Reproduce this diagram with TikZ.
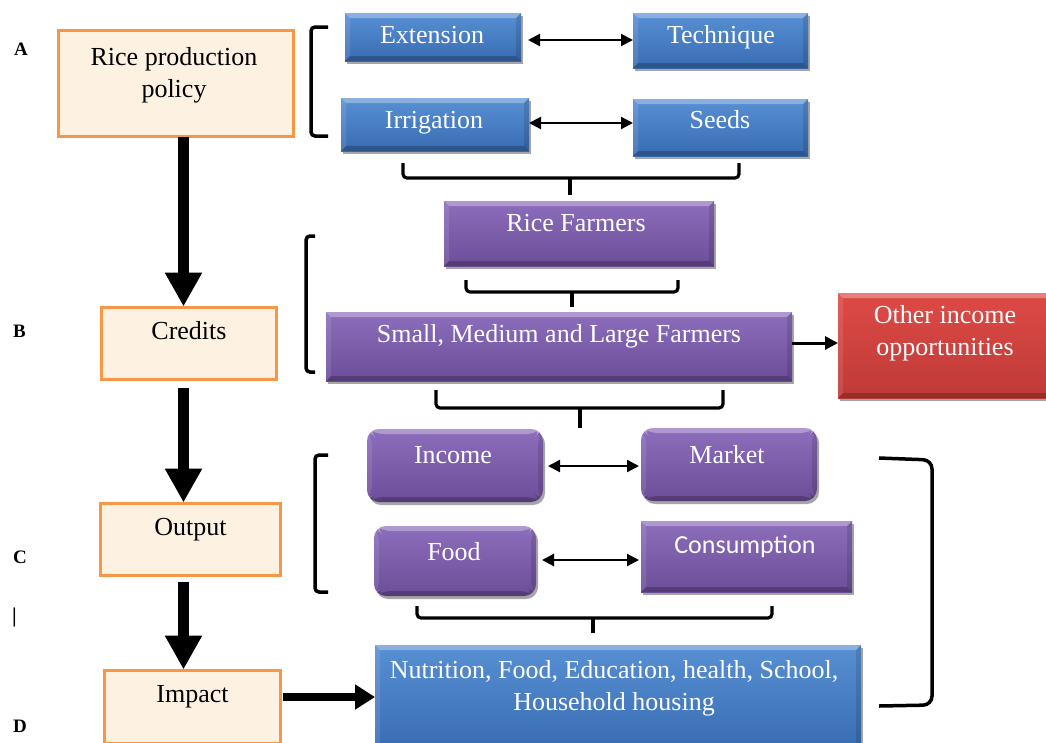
\documentclass[tikz,border=0pt]{standalone}
\usepackage{fontspec}
\setmainfont{Liberation Serif}
\newfontfamily\consfont{Carlito}
\usetikzlibrary{arrows.meta,shadows}

\definecolor{blueT}{HTML}{5890D4}
\definecolor{blueB}{HTML}{386CB2}
\definecolor{purT}{HTML}{8D6EBC}
\definecolor{purB}{HTML}{6C4D98}
\definecolor{redT}{HTML}{DE4A46}
\definecolor{redB}{HTML}{BE3A37}
\definecolor{orEdge}{HTML}{F79646}
\definecolor{orFill}{HTML}{FDF2E2}

\tikzset{
  box/.style={rectangle, inner sep=0pt, outer sep=0pt},
  bevel/.style={path picture={
    \fill[white,opacity=.30] (path picture bounding box.north west) -- (path picture bounding box.north east)
      -- ([xshift=-5pt,yshift=-5pt]path picture bounding box.north east) -- ([xshift=5pt,yshift=-5pt]path picture bounding box.north west) -- cycle;
    \fill[white,opacity=.10] (path picture bounding box.north west) -- ([xshift=5pt,yshift=-5pt]path picture bounding box.north west)
      -- ([xshift=5pt,yshift=5pt]path picture bounding box.south west) -- (path picture bounding box.south west) -- cycle;
    \fill[black,opacity=.12] (path picture bounding box.north east) -- ([xshift=-5pt,yshift=-5pt]path picture bounding box.north east)
      -- ([xshift=-5pt,yshift=5pt]path picture bounding box.south east) -- (path picture bounding box.south east) -- cycle;
    \fill[black,opacity=.22] (path picture bounding box.south west) -- (path picture bounding box.south east)
      -- ([xshift=-5pt,yshift=5pt]path picture bounding box.south east) -- ([xshift=5pt,yshift=5pt]path picture bounding box.south west) -- cycle;
  }},
  shade3d/.style={drop shadow={shadow xshift=2pt,shadow yshift=-3pt,opacity=.35,fill=black}},
  bluebox/.style={box, top color=blueT, bottom color=blueB, shade3d, bevel},
  purbox/.style={box, top color=purT, bottom color=purB, shade3d, bevel},
  purround/.style={purbox, rounded corners=12pt},
  redbox/.style={box, top color=redT, bottom color=redB, shade3d, bevel},
  obox/.style={box, draw=orEdge, line width=3pt, fill=orFill},
  txt/.style={font=\fontsize{26}{31}\selectfont, anchor=base, inner sep=0pt},
  wtxt/.style={txt, text=white},
  tag/.style={font=\fontsize{19}{22}\selectfont\bfseries, anchor=base west, inner sep=0pt},
  bigarrow/.style={line width=11pt, -{Triangle[length=34pt,width=35pt]}},
  sidearrow/.style={line width=8pt, -{Triangle[length=20pt,width=24pt]}},
  thinarrow/.style={line width=3pt, -{Triangle[length=13pt,width=13pt]}},
  dblarrow/.style={line width=2.2pt, {Triangle[length=12pt,width=12pt]}-{Triangle[length=12pt,width=12pt]}},
  bracket/.style={line width=3.5pt, rounded corners=4pt},
  brace/.style={line width=3.2pt, rounded corners=4pt},
}

\begin{document}
\begin{tikzpicture}[x=1pt,y=-1pt]
\useasboundingbox (0,0) rectangle (1046,742);

% stage letters
\node[tag] (tA) at (14,55) {A};
\node[tag] (tB) at (13,337) {B};
\node[tag] (tC) at (13,563) {C};
\node[tag, font=\fontsize{21}{24}\selectfont\bfseries] (tbar) at (12,622) {|};
\node[tag] (tD) at (13,732) {D};

% left column: policy chain
\node[obox, minimum width=235pt, minimum height=106pt] (policy) at (176,83.5) {};
\node[txt] (policy-t1) at (174,65) {Rice production};
\node[txt] (policy-t2) at (174,97) {policy};

\node[obox, minimum width=175pt, minimum height=72pt] (credits) at (189,343.5) {};
\node[txt] (credits-t) at (189,339) {Credits};

\node[obox, minimum width=180pt, minimum height=72pt] (output) at (190.5,539.5) {};
\node[txt] (output-t) at (190.5,535) {Output};

\node[obox, minimum width=176pt, minimum height=73pt] (impact) at (192.5,707) {};
\node[txt] (impact-t) at (192.5,702) {Impact};

% policy instruments
\node[bluebox, minimum width=176pt, minimum height=48pt] (ext) at (433,37) {};
\node[wtxt] (ext-t) at (432,43) {Extension};
\node[bluebox, minimum width=175pt, minimum height=55pt] (tech) at (720.5,40.5) {};
\node[wtxt] (tech-t) at (721,43) {Technique};
\node[bluebox, minimum width=188pt, minimum height=53pt] (irr) at (435,124.5) {};
\node[wtxt] (irr-t) at (434,128) {Irrigation};
\node[bluebox, minimum width=175pt, minimum height=57pt] (seeds) at (720.5,127.5) {};
\node[wtxt] (seeds-t) at (720,128) {Seeds};

% farmers
\node[purbox, minimum width=270pt, minimum height=65pt] (rice) at (579,233.5) {};
\node[wtxt] (rice-t) at (576,231) {Rice Farmers};
\node[purbox, minimum width=466pt, minimum height=69pt] (sml) at (559,346.5) {};
\node[wtxt] (sml-t) at (559,342) {Small, Medium and Large Farmers};
\node[redbox, minimum width=216pt, minimum height=105pt] (other) at (946,345.5) {};
\node[wtxt] (other-t1) at (945,323) {Other income};
\node[wtxt] (other-t2) at (945,355) {opportunities};

% outcomes
\node[purround, minimum width=176pt, minimum height=73pt] (income) at (455,465.5) {};
\node[wtxt] (income-t) at (453,463) {Income};
\node[purround, minimum width=176pt, minimum height=73pt] (market) at (729,464.5) {};
\node[wtxt] (market-t) at (727,463) {Market};
\node[purround, minimum width=162pt, minimum height=70pt] (food) at (455,561) {};
\node[wtxt] (food-t) at (454,560) {Food};
\node[purbox, minimum width=211pt, minimum height=71pt] (cons) at (746.5,556.5) {};
\node[wtxt, font=\consfont\fontsize{26}{31}\selectfont] (cons-t) at (745,553) {Consumption};

% impacts
\node[bluebox, minimum width=486pt, minimum height=105pt] (nutr) at (618,697.5) {};
\node[wtxt] (nutr-t1) at (614,678) {Nutrition, Food, Education, health, School,};
\node[wtxt] (nutr-t2) at (614,710) {Household housing};

% main flow
\draw[bigarrow, shorten >=1pt] (183.5,0 |- policy.south) -- (183.5,0 |- credits.north);
\draw[bigarrow, shorten <=8pt, shorten >=1pt] (183.5,0 |- credits.south) -- (183.5,0 |- output.north);
\draw[bigarrow, shorten <=6pt, shorten >=1pt] (183.5,0 |- output.south) -- (183.5,0 |- impact.north);
\draw[sidearrow, shorten <=2pt] (impact.east |- 0,697) -- (nutr.west |- 0,697);
\draw[thinarrow] (sml.east |- 0,343) -- (other.west |- 0,343);

% two-way links
\draw[dblarrow, shorten <=7pt] (ext.east |- 0,40) -- (tech.west |- 0,40);
\draw[dblarrow] (irr.east |- 0,123) -- (seeds.west |- 0,123);
\draw[dblarrow, shorten <=5pt, shorten >=2pt] (income.east |- 0,466) -- (market.west |- 0,466);
\draw[dblarrow, shorten <=6pt, shorten >=2pt] (food.east |- 0,560) -- (cons.west |- 0,560);

% brackets
\draw[bracket] (328,27) -- (311,27) -- (311,136) -- (328,136);
\draw[bracket] (315,236) -- (306,236) -- (306,372) -- (315,372);
\draw[bracket] (328,455) -- (315,455) -- (315,592) -- (328,592);
\draw[bracket, rounded corners=9pt] (879,458) -- (932,460) -- (932,705) -- (879,706);

% braces gathering groups
\draw[brace] (403,163) -- (403,178) -- (739,178) -- (739,163);
\draw[brace] (570,178) -- (570,195);
\draw[brace] (466,280) -- (466,292) -- (678,292) -- (678,280);
\draw[brace] (572,292) -- (572,307);
\draw[brace] (436,390) -- (436,408) -- (723,408) -- (723,390);
\draw[brace] (580,408) -- (580,428);
\draw[brace] (417,606) -- (417,618) -- (772,618) -- (772,606);
\draw[brace] (593,618) -- (593,633);
\end{tikzpicture}
\end{document}
